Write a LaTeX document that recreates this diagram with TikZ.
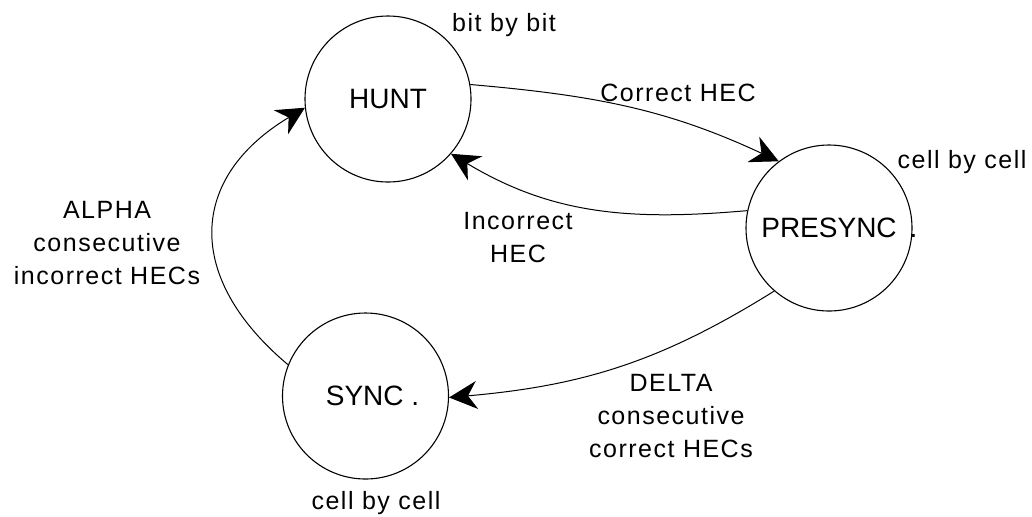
\documentclass[tikz,border=0pt]{standalone}
\usepackage{fontspec}
\setmainfont{Liberation Sans}
\newfontfamily\lblfont[LetterSpace=6]{Liberation Sans}
\usetikzlibrary{arrows.meta}
\begin{document}
\begin{tikzpicture}[x=0.5pt,y=-0.5pt,
  state/.style={draw, circle, line width=0.55pt, minimum size=83pt, inner sep=0pt,
    font=\fontsize{14}{16}\selectfont},
  lbl/.style={align=center, inner sep=0pt, font=\lblfont\fontsize{12.5}{16.5}\selectfont},
  conn/.style={line width=0.5pt, -{Stealth[length=14pt,width=14pt,inset=4.5pt]}}]
\useasboundingbox (0,0) rectangle (1032,516);
\fill[white] (0,0) rectangle (1032,516);
% states
\node[state] (hunt) at (388,99) {HUNT};
\node[state] (presync) at (829,228) {PRESYNC\rlap{\hspace{6.5pt}.}};
\node[state] (sync) at (365.5,396) {\hspace{7pt}SYNC .};
% annotations
\node[lbl] (bitbybit) at (504,25) {bit by bit};
\node[lbl] (cellA) at (962,162) {cell by cell};
\node[lbl] (cellB) at (376,503) {cell by cell};
\node[lbl] (lcorrect) at (678,93) {Correct HEC};
\node[lbl] (lincorrect) at (518,238) {Incorrect\\HEC};
\node[lbl] (ldelta) at (671,416) {DELTA\\consecutive\\correct HECs};
\node[lbl] (lalpha) at (107,243.5) {ALPHA\\consecutive\\incorrect HECs};
% transitions
\draw[conn] (hunt.10) to[out=-5, in=155] (presync.127);
\draw[conn] (presync.168) to[out=185, in=-31] (hunt.-41);
\draw[conn] (presync.229) to[out=212, in=5] (sync.-1);
\draw[conn] (sync.158) to[out=140, in=211, looseness=1.35] (hunt.186);
\end{tikzpicture}
\end{document}
